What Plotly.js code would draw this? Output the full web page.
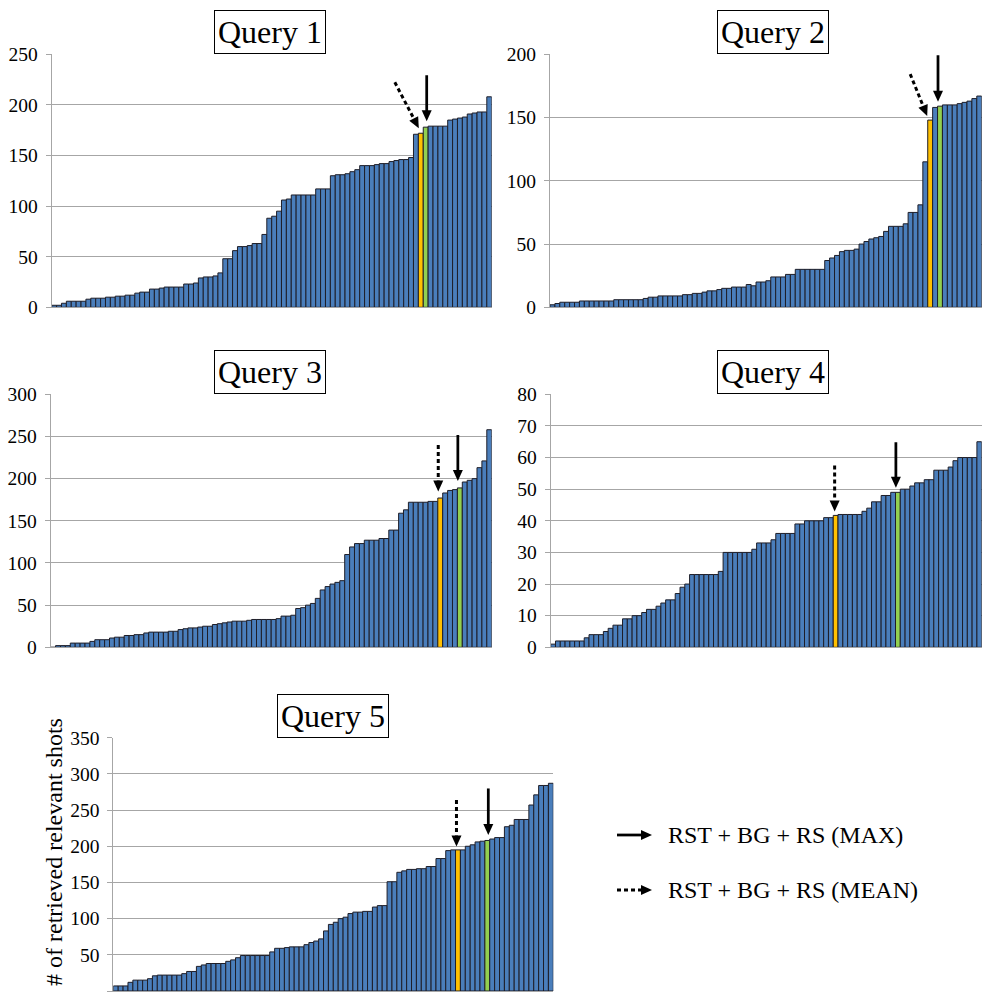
<!DOCTYPE html>
<html><head><meta charset="utf-8">
<script src="https://cdn.plot.ly/plotly-3.0.1.min.js"></script>
<style>html,body{margin:0;padding:0;background:#fff;} #chart{width:982px;height:995px;}</style>
</head><body><div id="chart"></div>
<script>
// ---------------- DATA ----------------
const titles = ['Query 1', 'Query 2', 'Query 3', 'Query 4', 'Query 5'];
const q1 = [2,2,4,6,6,6,6,8,9,9,9,10,10,11,11,12,12,14,15,15,18,18,19,20,20,20,20,23,23,24,29,30,30,31,34,48,48,56,60,60,61,63,63,
  72,88,90,95,106,107,111,111,111,111,111,117,117,117,130,131,131,132,134,136,140,140,140,141,142,142,144,145,146,146,148,171,172,178,179,179,179,179,185,186,187,188,191,192,193,193,208];
const q2 = [2,3,4,4,4,4,5,5,5,5,5,5,5,6,6,6,6,6,6,7,8,8,9,9,9,9,9,10,10,11,11,12,13,13,14,15,15,16,16,16,18,
  17,20,20,21,24,24,24,26,26,30,30,30,30,30,30,37,39,41,44,45,45,46,50,52,54,55,56,60,64,64,64,66,75,75,81,115,148,158,159,160,160,160,161,162,163,165,167];
const q3 = [0,2,2,2,5,5,5,5,7,9,9,9,11,12,12,14,14,15,15,17,18,18,18,18,19,19,21,22,23,23,24,25,25,27,28,29,30,31,31,31,32,33,33,33,33,33,
  34,37,37,38,46,47,50,52,58,68,72,75,77,79,110,119,123,123,127,127,127,129,129,139,139,159,163,172,172,172,172,173,173,177,183,186,187,189,196,198,200,213,221,258];
const q4 = [1,2,2,2,2,2,2,3,4,4,4,5,6,7,7,9,9,10,10,11,12,12,13,14,15,15,17,19,20,23,23,23,23,23,23,24,30,30,30,30,30,30,
  31,33,33,33,34,36,36,36,36,39,39,40,40,40,40,41,41,41.7,42,42,42,42,42,43,44,46,46,48,48,49,49,50,50,51,52,52,53,53,56,56,56,57,59,60,60,60,60,65];
const q5 = [7,7,7,12,15,15,15,17,21,22,22,22,22,22,24,27,27,34,36,38,38,38,38,41,43,46,49,49,49,49,49,49,54,59,59,60,61,61,61,64,
  67,69,72,83,92,95,100,102,107,109,109,110,110,116,118,118,151,151,164,166,168,168,169,169,172,172,183,183,194,195,195,195,200,202,206,207,208,210,212,212,227,229,237,237,237,257,271,284,284,287];
const series = [q1, q2, q3, q4, q5];
// index of the highlighted runs: MEAN (orange) and MAX (green)
const meanIdx = [75, 77, 79, 59, 70];
const maxIdx  = [76, 79, 83, 72, 76];
const yMax  = [250, 200, 300, 80, 350];
const yStep = [50, 50, 50, 10, 50];
const yTitle = '# of retrieved relevant shots';
const legendLabels = ['RST + BG + RS (MAX)', 'RST + BG + RS (MEAN)'];

// ---------------- LAYOUT ----------------
const W = 982, H = 995;
const px = x => x / W, py = y => 1 - y / H;
const panels = [
  {x0: 51.7, x1: 491.7, y0: 54.3, y1: 307.3, tc: 270.3},
  {x0: 550.0, x1: 981.7, y0: 54.3, y1: 307.3, tc: 772.7},
  {x0: 50.7, x1: 491.7, y0: 394.3, y1: 647.3, tc: 270.3},
  {x0: 550.7, x1: 981.7, y0: 394.3, y1: 647.3, tc: 772.7},
  {x0: 113.3, x1: 553.3, y0: 737.7, y1: 991.0, tc: 332.7}
];
const solidSpec = [
  {dx: 1, top: 52, tip: 6}, {dx: -2, top: 51, tip: 4.5}, {dx: -2, top: 53, tip: 7},
  {dx: -2, top: 50, tip: 4.5}, {dx: 1, top: 52, tip: 5.5}
];
const dotSpec = [
  {sx: -26, sy: 51, tx: -2, ty: 5}, {sx: -20, sy: 46, tx: -3, ty: 4}, {sx: -2, sy: 53, tx: -2, ty: 6.5},
  {sx: -1, sy: 50, tx: -1, ty: 4}, {sx: -1.5, sy: 50, tx: -1.5, ty: 3.5}
];
const BLUE = '#4a7ebb', ORANGE = '#ffc000', GREEN = '#92d050';
const GRID = '#a6a6a6';
const FONT = 'Liberation Serif';
const HL = 11, HW = 5;

const traces = [], shapes = [], annotations = [];
const layout = {
  width: W, height: H, margin: {l: 0, r: 0, t: 0, b: 0}, autosize: false,
  paper_bgcolor: '#fff', plot_bgcolor: '#fff', bargap: 0, showlegend: false,
  font: {family: FONT, color: '#000'}
};

function headPath(tx, ty, sx, sy) {
  const L = Math.hypot(sx - tx, sy - ty);
  const ux = (sx - tx) / L, uy = (sy - ty) / L;
  const bx = tx + ux * HL, by = ty + uy * HL;
  const pxv = -uy, pyv = ux;
  return {
    path: `M ${tx},${ty} L ${bx + pxv * HW},${by + pyv * HW} L ${bx - pxv * HW},${by - pyv * HW} Z`,
    bx, by
  };
}

series.forEach((vals, k) => {
  const n = k === 0 ? '' : String(k + 1);
  const xa = 'x' + n, ya = 'y' + n;
  const p = panels[k];
  const colors = vals.map((v, i) => i === meanIdx[k] ? ORANGE : (i === maxIdx[k] ? GREEN : BLUE));
  traces.push({
    type: 'bar', x: vals.map((v, i) => i), y: vals, xaxis: xa, yaxis: ya,
    marker: {color: colors, line: {color: '#1e1e28', width: 1}},
    hoverinfo: 'skip', showlegend: false
  });
  const ticks = [];
  for (let t = 0; t <= yMax[k]; t += yStep[k]) ticks.push(t);
  layout['xaxis' + n] = {
    domain: [px(p.x0), px(p.x1)], anchor: ya, range: [-0.5, vals.length - 0.5],
    showgrid: false, zeroline: false, showticklabels: false, ticks: '',
    showline: true, linecolor: GRID, linewidth: 1, fixedrange: true
  };
  layout['yaxis' + n] = {
    domain: [py(p.y1), py(p.y0)], anchor: xa, range: [0, yMax[k]],
    tickvals: ticks, ticktext: ticks.map(String), showgrid: true, gridcolor: GRID, gridwidth: 1,
    zeroline: false, showline: true, linecolor: GRID, linewidth: 1,
    ticks: 'outside', ticklen: 5, tickcolor: GRID, tickwidth: 1, ticklabelstandoff: 4,
    tickfont: {family: FONT, size: 19.5, color: '#000'}, fixedrange: true
  };
  // Title box
  annotations.push({
    xref: 'paper', yref: 'paper', x: px(p.tc), y: py(p.y0), xanchor: 'center', yanchor: 'bottom',
    text: titles[k], showarrow: false, font: {family: FONT, size: 32, color: '#000'},
    bgcolor: '#fff', bordercolor: '#000', borderwidth: 1, borderpad: 3
  });
  // Solid arrow (MAX)
  const s = solidSpec[k];
  const base = {xref: xa, yref: ya, xsizemode: 'pixel', ysizemode: 'pixel'};
  shapes.push(Object.assign({}, base, {
    type: 'line', xanchor: maxIdx[k], yanchor: vals[maxIdx[k]],
    x0: s.dx, x1: s.dx, y0: s.top, y1: s.tip + HL - 1, line: {color: '#000', width: 2.75}
  }));
  const hs = headPath(s.dx, s.tip, s.dx, s.top);
  shapes.push(Object.assign({}, base, {
    type: 'path', xanchor: maxIdx[k], yanchor: vals[maxIdx[k]], path: hs.path,
    fillcolor: '#000', line: {width: 0}
  }));
  // Dotted arrow (MEAN)
  const d = dotSpec[k];
  const hd = headPath(d.tx, d.ty, d.sx, d.sy);
  shapes.push(Object.assign({}, base, {
    type: 'line', xanchor: meanIdx[k], yanchor: vals[meanIdx[k]],
    x0: d.sx, y0: d.sy, x1: hd.bx, y1: hd.by, line: {color: '#000', width: 3, dash: '4px,3px'}
  }));
  shapes.push(Object.assign({}, base, {
    type: 'path', xanchor: meanIdx[k], yanchor: vals[meanIdx[k]], path: hd.path,
    fillcolor: '#000', line: {width: 0}
  }));
});

// Y axis title (only on Query 5 panel)
annotations.push({
  xref: 'paper', yref: 'paper', x: px(53.5), y: py(852.5), xanchor: 'center', yanchor: 'middle',
  text: yTitle, textangle: -90, showarrow: false, font: {family: FONT, size: 24, color: '#000'}
});

// Legend
const legY = [835, 890];
legendLabels.forEach((lab, i) => {
  annotations.push({
    xref: 'paper', yref: 'paper', x: px(666), y: py(legY[i]), xanchor: 'left', yanchor: 'middle',
    text: lab, showarrow: false, font: {family: FONT, size: 24, color: '#000'}
  });
  const y = py(legY[i]);
  shapes.push({
    type: 'line', xref: 'paper', yref: 'paper', x0: px(617), x1: px(642), y0: y, y1: y,
    line: {color: '#000', width: i === 0 ? 2.75 : 3, dash: i === 0 ? 'solid' : '4px,3px'}
  });
  shapes.push({
    type: 'path', xref: 'paper', yref: 'paper',
    path: `M ${px(641)},${py(legY[i] - 5)} L ${px(652)},${y} L ${px(641)},${py(legY[i] + 5)} Z`,
    fillcolor: '#000', line: {width: 0}
  });
});

layout.shapes = shapes;
layout.annotations = annotations;
Plotly.newPlot('chart', traces, layout, {staticPlot: true, displayModeBar: false});
</script></body></html>
